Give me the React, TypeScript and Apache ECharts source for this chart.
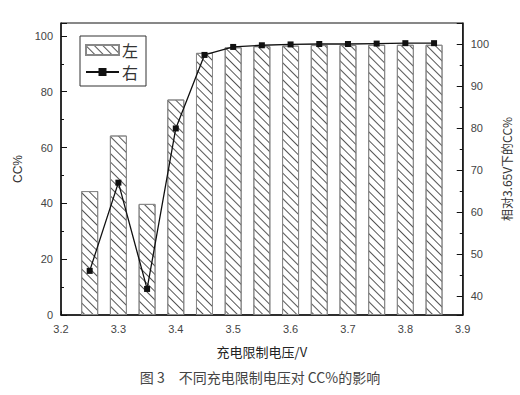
import React, { useEffect, useRef } from "react";
import * as echarts from "echarts";

const voltages = [3.25, 3.3, 3.35, 3.4, 3.45, 3.5, 3.55, 3.6, 3.65, 3.7, 3.75, 3.8, 3.85];
const ccLeft = [44.4, 64.3, 39.8, 77.2, 93.9, 95.9, 96.3, 96.5, 96.7, 96.7, 96.8, 96.8, 96.8];
const ccRelative = [46.0, 67.0, 41.7, 79.9, 97.4, 99.3, 99.7, 99.9, 100, 100, 100.1, 100.2, 100.2];
const seriesNames = ["左", "右"];
const xTitle = "充电限制电压/V";
const yLeftTitle = "CC%";
const yRightTitle = "相对3.65V下的CC%";
const caption = "图 3　不同充电限制电压对 CC%的影响";

const FONT = "'Liberation Sans', Arial, sans-serif";

export default function App() {
  const ref = useRef<HTMLDivElement>(null);
  useEffect(() => {
    if (!ref.current) return;
    const chart = echarts.init(ref.current, null, { renderer: "svg" });
    const axisLabel = { color: "#444", fontSize: 11, fontFamily: FONT };
    chart.setOption({
      animation: false,
      backgroundColor: "#fff",
      grid: {
        left: 61,
        right: 57,
        top: 23,
        bottom: 80,
        show: true,
        borderColor: "#111",
        borderWidth: 1,
        backgroundColor: "transparent",
      },
      legend: {
        orient: "vertical",
        left: 80,
        top: 36,
        itemWidth: 33,
        itemHeight: 10,
        itemGap: 6,
        padding: [6, 8, 6, 5],
        borderColor: "#333",
        borderWidth: 1,
        textStyle: { fontSize: 16, color: "#333", fontFamily: "'Noto Sans CJK SC', sans-serif", padding: [0, 0, 0, -2] },
        data: [
          { name: seriesNames[0], icon: "rect" },
          { name: seriesNames[1] },
        ],
      },
      xAxis: {
        type: "value",
        min: 3.2,
        max: 3.9,
        interval: 0.1,
        name: xTitle,
        nameLocation: "middle",
        nameGap: 30,
        nameTextStyle: { fontSize: 13, color: "#222", fontFamily: "'Noto Sans CJK SC', sans-serif" },
        axisLine: { lineStyle: { color: "#111", width: 1.5 } },
        axisTick: { inside: true, length: 4, lineStyle: { color: "#111" } },
        minorTick: { show: false },
        splitLine: { show: false },
        axisLabel: { ...axisLabel, margin: 8, formatter: (v: number) => v.toFixed(1) },
      },
      yAxis: [
        {
          type: "value",
          min: 0,
          max: 104.6,
          interval: 20,
          name: yLeftTitle,
          nameLocation: "middle",
          nameGap: 34,
          nameRotate: 90,
          nameTextStyle: { fontSize: 12, color: "#333", fontFamily: FONT },
          axisLine: { show: true, lineStyle: { color: "#111", width: 1.5 } },
          axisTick: { inside: true, length: 6, lineStyle: { color: "#111" } },
          minorTick: { show: true, splitNumber: 2, length: 3, lineStyle: { color: "#111" } },
          splitLine: { show: false },
          axisLabel: { ...axisLabel, showMaxLabel: false, margin: 8 },
        },
        {
          type: "value",
          min: 35.5,
          max: 105,
          splitNumber: 7,
          position: "right",
          name: yRightTitle,
          nameLocation: "middle",
          nameGap: 27,
          nameRotate: 90,
          nameTextStyle: { fontSize: 12, color: "#333", fontFamily: "'Noto Sans CJK SC', " + FONT },
          axisLine: { show: true, lineStyle: { color: "#111", width: 1.5 } },
          axisTick: { inside: true, length: 6, lineStyle: { color: "#111" } },
          minorTick: { show: true, splitNumber: 2, length: 3, lineStyle: { color: "#111" } },
          splitLine: { show: false },
          axisLabel: { ...axisLabel, showMinLabel: false, showMaxLabel: false, margin: 8 },
        },
      ],
      series: [
        {
          name: seriesNames[0],
          type: "bar",
          yAxisIndex: 0,
          barWidth: 17,
          data: voltages.map((v, i) => [v, ccLeft[i]]),
          itemStyle: {
            color: "#fff",
            borderColor: "#888",
            borderWidth: 1,
            decal: {
              symbol: "rect",
              color: "#555",
              dashArrayX: [1, 0],
              dashArrayY: [1, 5],
              rotation: Math.PI / 4,
              symbolSize: 1,
            },
          },
          z: 1,
        },
        {
          name: seriesNames[1],
          type: "line",
          yAxisIndex: 1,
          data: voltages.map((v, i) => [v, ccRelative[i]]),
          symbol: "rect",
          symbolSize: 6,
          lineStyle: { color: "#111", width: 1.3 },
          itemStyle: { color: "#111" },
          z: 3,
        },
      ],
      graphic: [
        {
          type: "text",
          left: "center",
          top: 370,
          style: {
            text: caption,
            fontSize: 14,
            fill: "#444",
            fontFamily: "'Noto Sans CJK SC', serif",
          },
        },
      ],
    });
    return () => chart.dispose();
  }, []);
  return (
    <div
      ref={ref}
      style={{ position: "fixed", left: 0, top: 0, width: 520, height: 395, background: "#fff" }}
    />
  );
}
